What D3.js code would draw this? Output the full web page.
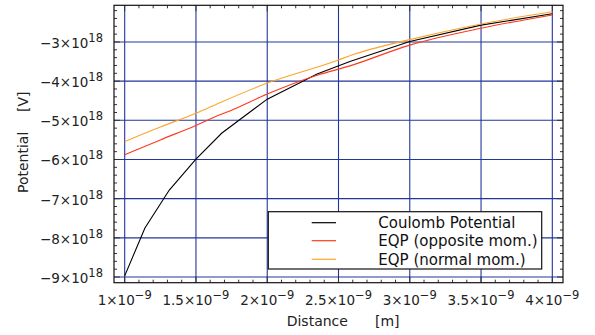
<!DOCTYPE html>
<html>
<head>
<meta charset="utf-8">
<script src="https://cdn.jsdelivr.net/npm/d3@7"></script>
<style>
html,body{margin:0;padding:0;background:#fff;}
svg{display:block;font-family:"DejaVu Sans",Verdana,sans-serif;}
</style>
</head>
<body>
<svg id="chart" width="595" height="335"></svg>
<script>
// ---- data (x in units of 1e-9 m, y in units of 1e18 V) ----
const coulombX = [1.0, 1.142, 1.313, 1.5, 1.68, 2.0, 2.35, 2.58, 3.0, 3.5, 4.0];
const coulombY = [-8.97, -7.75, -6.78, -5.99, -5.33, -4.46, -3.82, -3.50, -2.99, -2.57, -2.28];
const oppositeX = [1.0, 1.25, 1.5, 1.668, 1.738, 2.0, 2.35, 2.58, 3.0, 3.5, 4.0];
const oppositeY = [-5.88, -5.50, -5.13, -4.86, -4.76, -4.33, -3.85, -3.61, -3.08, -2.65, -2.31];
const normalX = [1.0, 1.25, 1.5, 1.668, 2.0, 2.5, 2.58, 3.0, 3.5, 4.0];
const normalY = [-5.54, -5.17, -4.82, -4.55, -4.05, -3.46, -3.35, -2.94, -2.54, -2.23];
const xTicks = [1, 1.5, 2, 2.5, 3, 3.5, 4];
const xTickLabels = ["1", "1.5", "2", "2.5", "3", "3.5", "4"];
const yTicks = [-3, -4, -5, -6, -7, -8, -9];
const yTickLabels = ["\u22123", "\u22124", "\u22125", "\u22126", "\u22127", "\u22128", "\u22129"];
const seriesNames = ["Coulomb Potential", "EQP (opposite mom.)", "EQP (normal mom.)"];
const seriesColors = ["#000000", "#ff3a1a", "#ffa42a"];

const svg = d3.select("#chart");
const L = 114, R = 563, T = 5.3, B = 282.7;
const x = d3.scaleLinear().domain([0.925, 4.075]).range([L, R]);
const y = d3.scaleLinear().domain([-9.145, -2.064]).range([B, T]);

// grid
const gridColor = "#23369a";
svg.append("g").selectAll("line").data(xTicks).join("line")
  .attr("x1", d => x(d)).attr("x2", d => x(d)).attr("y1", T).attr("y2", B)
  .attr("stroke", gridColor).attr("stroke-width", 1.1);
svg.append("g").selectAll("line").data(yTicks).join("line")
  .attr("y1", d => y(d)).attr("y2", d => y(d)).attr("x1", L).attr("x2", R)
  .attr("stroke", gridColor).attr("stroke-width", 1.1);

// minor ticks
const xMinor = d3.range(0.9, 4.11, 0.1).filter(v => v >= 0.925 && v <= 4.075);
const yMinor = d3.range(-9.2, -2.0, 0.2).filter(v => v >= -9.145 && v <= -2.064);
const tickG = svg.append("g").attr("stroke", "#333").attr("stroke-width", 1);
function isMajor(v, arr){ return arr.some(a => Math.abs(a - v) < 1e-6); }
xMinor.forEach(v => {
  const len = isMajor(v, xTicks) ? 6 : 3;
  tickG.append("line").attr("x1", x(v)).attr("x2", x(v)).attr("y1", B).attr("y2", B - len);
  tickG.append("line").attr("x1", x(v)).attr("x2", x(v)).attr("y1", T).attr("y2", T + len);
});
yMinor.forEach(v => {
  const len = isMajor(v, yTicks) ? 6 : 3;
  tickG.append("line").attr("y1", y(v)).attr("y2", y(v)).attr("x1", L).attr("x2", L + len);
  tickG.append("line").attr("y1", y(v)).attr("y2", y(v)).attr("x1", R).attr("x2", R - len);
});

// curves
const series = [[coulombX, coulombY], [oppositeX, oppositeY], [normalX, normalY]];
const line = d3.line().x(d => x(d[0])).y(d => y(d[1]));
series.forEach((s, i) => {
  const pts = s[0].map((v, j) => [v, s[1][j]]);
  svg.append("path").datum(pts)
    .attr("d", i === 0 ? line.curve(d3.curveLinear)(pts) : line.curve(d3.curveMonotoneX)(pts))
    .attr("fill", "none").attr("stroke", seriesColors[i]).attr("stroke-width", 1.1);
});

// frame
svg.append("rect").attr("x", L).attr("y", T).attr("width", R - L).attr("height", B - T)
  .attr("fill", "none").attr("stroke", "#111").attr("stroke-width", 1.2);

// y tick labels
yTicks.forEach((v, i) => {
  const t = svg.append("text").attr("x", 103).attr("y", y(v) + 6)
    .attr("text-anchor", "end").attr("font-size", 13.5).attr("fill", "#222");
  t.append("tspan").text(yTickLabels[i] + "\u00d710");
  t.append("tspan").attr("dy", -6).attr("font-size", 11.5).text("18");
});
// x tick labels
xTicks.forEach((v, i) => {
  const t = svg.append("text").attr("x", x(v)).attr("y", 305)
    .attr("text-anchor", "middle").attr("font-size", 13.5).attr("fill", "#222");
  t.append("tspan").text(xTickLabels[i] + "\u00d710");
  t.append("tspan").attr("dy", -6).attr("font-size", 11.5).text("\u22129");
});

// axis titles
svg.append("text").attr("x", 286.7).attr("y", 326).attr("font-size", 14).attr("fill", "#222").text("Distance");
svg.append("text").attr("x", 375).attr("y", 326).attr("font-size", 14).attr("fill", "#222").text("[m]");
svg.append("text").attr("transform", "translate(28,193) rotate(-90)").attr("font-size", 14).attr("fill", "#222").text("Potential");
svg.append("text").attr("transform", "translate(28,112) rotate(-90)").attr("font-size", 14).attr("fill", "#222").text("[V]");

// legend
const lg = svg.append("g");
lg.append("rect").attr("x", 268.3).attr("y", 211.7).attr("width", 273.4).attr("height", 57.3)
  .attr("fill", "#fff").attr("stroke", "#111").attr("stroke-width", 1.2);
const rowsY = [222.7, 240.7, 259.3];
seriesNames.forEach((n, i) => {
  lg.append("line").attr("x1", 311.7).attr("x2", 336).attr("y1", rowsY[i]).attr("y2", rowsY[i])
    .attr("stroke", seriesColors[i]).attr("stroke-width", 1.2);
  lg.append("text").attr("x", 378.3).attr("y", rowsY[i] + 5.5).attr("font-size", 15).attr("fill", "#111").text(n);
});
</script>
</body>
</html>
